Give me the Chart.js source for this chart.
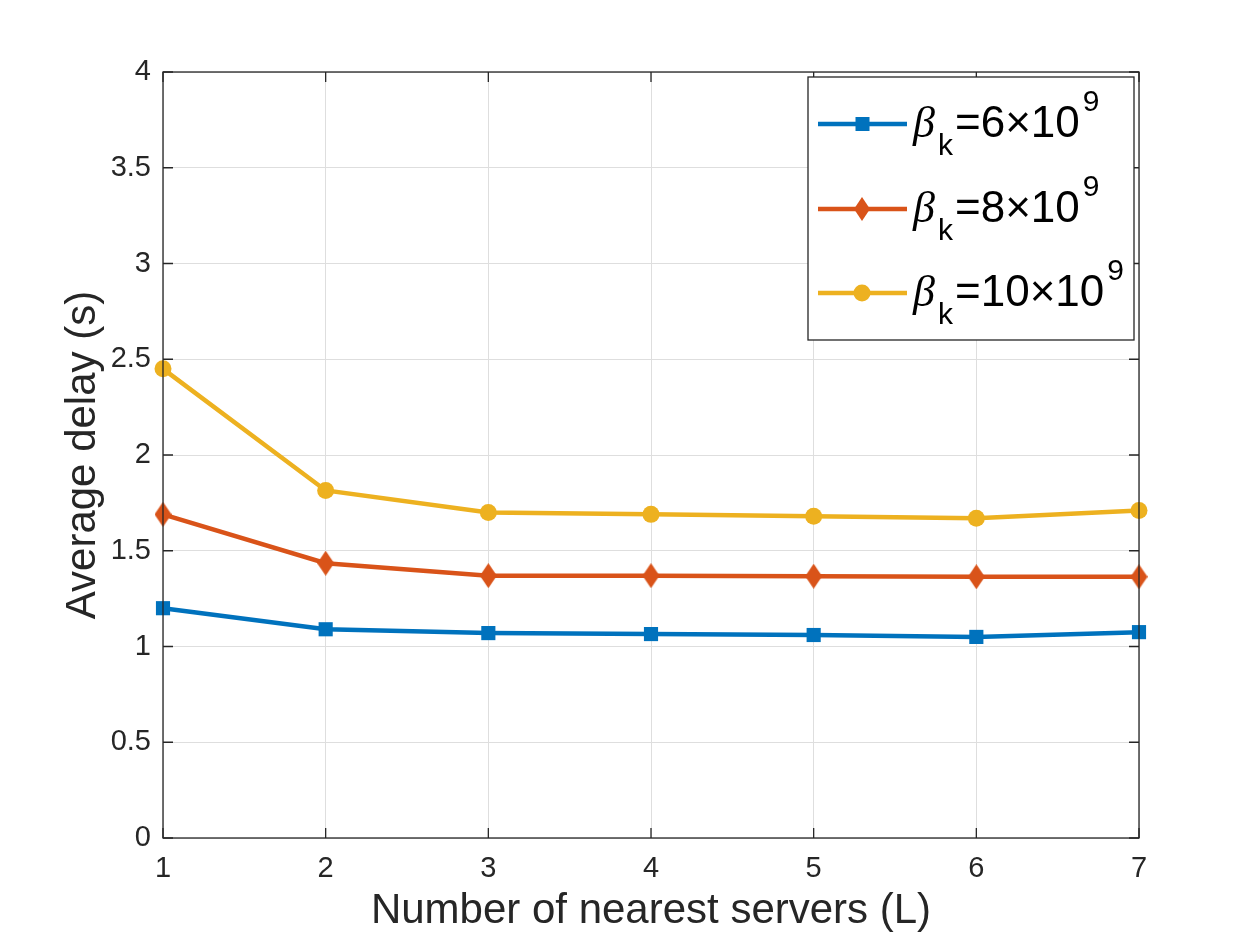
<!DOCTYPE html>
<html>
<head>
<meta charset="utf-8">
<script src="https://cdn.jsdelivr.net/npm/chart.js@4"></script>
<style>
  html, body { margin: 0; padding: 0; background: #fff; }
  #wrap { width: 1260px; height: 945px; }
</style>
</head>
<body>
<div id="wrap"><canvas id="chart" width="1260" height="945"></canvas></div>
<script>
const servers = [1, 2, 3, 4, 5, 6, 7];
const delay6 = [1.20, 1.09, 1.07, 1.065, 1.06, 1.05, 1.075];
const delay8 = [1.69, 1.435, 1.37, 1.37, 1.367, 1.364, 1.364];
const delay10 = [2.45, 1.815, 1.70, 1.69, 1.68, 1.67, 1.71];
const yTicks = [0, 0.5, 1, 1.5, 2, 2.5, 3, 3.5, 4];
const legendLabels = [
  { main: '=6\u00d710', sup: '9' },
  { main: '=8\u00d710', sup: '9' },
  { main: '=10\u00d710', sup: '9' }
];

const BLUE = '#0072BD';
const RED = '#D95319';
const YELLOW = '#EDB120';
const AXIS = '#262626';

// MATLAB's diamond is taller than wide
function diamond(w, h, color) {
  const c = document.createElement('canvas');
  c.width = w; c.height = h;
  const g = c.getContext('2d');
  g.fillStyle = color;
  g.beginPath();
  g.moveTo(w / 2, 0);
  g.lineTo(w, h / 2);
  g.lineTo(w / 2, h);
  g.lineTo(0, h / 2);
  g.closePath();
  g.fill();
  return c;
}

const toPoints = (ys) => servers.map((x, i) => ({ x: x, y: ys[i] }));

const boxPlugin = {
  id: 'matlabBox',
  afterDraw(chart) {
    const { ctx, chartArea: a, scales } = chart;
    ctx.save();
    ctx.strokeStyle = AXIS;
    ctx.lineWidth = 1.3;
    ctx.strokeRect(a.left, a.top, a.right - a.left, a.bottom - a.top);
    const len = 10;
    ctx.beginPath();
    servers.forEach((v) => {
      const px = scales.x.getPixelForValue(v);
      ctx.moveTo(px, a.bottom); ctx.lineTo(px, a.bottom - len);
      ctx.moveTo(px, a.top); ctx.lineTo(px, a.top + len);
    });
    yTicks.forEach((v) => {
      const py = scales.y.getPixelForValue(v);
      ctx.moveTo(a.left, py); ctx.lineTo(a.left + len, py);
      ctx.moveTo(a.right, py); ctx.lineTo(a.right - len, py);
    });
    ctx.stroke();

    // legend
    const lx = 808, ly = 77, lw = 326, lh = 263;
    ctx.fillStyle = '#fff';
    ctx.fillRect(lx, ly, lw, lh);
    ctx.strokeStyle = AXIS;
    ctx.lineWidth = 1.3;
    ctx.strokeRect(lx, ly, lw, lh);
    const rows = [124, 209, 293];
    const colors = [BLUE, RED, YELLOW];
    rows.forEach((y, i) => {
      ctx.strokeStyle = colors[i];
      ctx.lineWidth = 4.5;
      ctx.beginPath();
      ctx.moveTo(818, y); ctx.lineTo(907, y);
      ctx.stroke();
      ctx.fillStyle = colors[i];
      if (i === 0) {
        ctx.fillRect(855.5, y - 7, 14, 14);
      } else if (i === 1) {
        ctx.drawImage(diamond(16, 24, RED), 854, y - 12);
      } else {
        ctx.beginPath();
        ctx.arc(862, y, 8.5, 0, Math.PI * 2);
        ctx.fill();
      }
      const base = y + 13;
      ctx.fillStyle = '#000';
      ctx.textBaseline = 'alphabetic';
      ctx.textAlign = 'left';
      ctx.font = 'italic 44px "Liberation Serif"';
      ctx.fillText('\u03b2', 913, base);
      ctx.font = '30px "Liberation Sans"';
      ctx.fillText('k', 938, base + 18);
      ctx.font = '44px "Liberation Sans"';
      ctx.fillText(legendLabels[i].main, 955, base);
      const w = ctx.measureText(legendLabels[i].main).width;
      ctx.font = '30px "Liberation Sans"';
      ctx.fillText(legendLabels[i].sup, 955 + w + 3, base - 26);
    });
    ctx.restore();
  }
};

new Chart(document.getElementById('chart'), {
  type: 'line',
  data: {
    datasets: [
      {
        label: '6e9',
        data: toPoints(delay6),
        borderColor: BLUE,
        backgroundColor: BLUE,
        borderWidth: 4.5,
        pointStyle: 'rect',
        pointRadius: 10,
        pointBorderWidth: 0,
        clip: false
      },
      {
        label: '8e9',
        data: toPoints(delay8),
        borderColor: RED,
        backgroundColor: RED,
        borderWidth: 4.5,
        pointStyle: diamond(17, 25, RED),
        clip: false
      },
      {
        label: '10e9',
        data: toPoints(delay10),
        borderColor: YELLOW,
        backgroundColor: YELLOW,
        borderWidth: 4.5,
        pointStyle: 'circle',
        pointRadius: 8.5,
        pointBorderWidth: 0,
        clip: false
      }
    ]
  },
  options: {
    responsive: false,
    animation: false,
    devicePixelRatio: 1,
    layout: { padding: { top: 72, right: 121, left: 0, bottom: 0 } },
    plugins: {
      legend: { display: false },
      tooltip: { enabled: false }
    },
    scales: {
      x: {
        type: 'linear',
        min: 1,
        max: 7,
        afterFit: (s) => { s.height = 107; },
        afterBuildTicks: (s) => { s.ticks = servers.map((v) => ({ value: v })); },
        grid: { color: '#dedede', lineWidth: 1, drawTicks: false },
        border: { display: false },
        ticks: {
          color: AXIS,
          padding: 14,
          maxRotation: 0,
          font: { family: '"Liberation Sans"', size: 29 }
        },
        title: {
          display: true,
          text: 'Number of nearest servers (L)',
          color: AXIS,
          padding: { top: 0, bottom: 8 },
          font: { family: '"Liberation Sans"', size: 42 }
        }
      },
      y: {
        type: 'linear',
        min: 0,
        max: 4,
        afterFit: (s) => { s.width = 163; },
        afterBuildTicks: (s) => { s.ticks = yTicks.map((v) => ({ value: v })); },
        grid: { color: '#dedede', lineWidth: 1, drawTicks: false },
        border: { display: false },
        ticks: {
          color: AXIS,
          padding: 12,
          font: { family: '"Liberation Sans"', size: 29 },
          callback: (v) => String(v)
        },
        title: {
          display: true,
          text: 'Average delay (s)',
          color: AXIS,
          padding: { top: 58, bottom: 0 },
          font: { family: '"Liberation Sans"', size: 42 }
        }
      }
    }
  },
  plugins: [boxPlugin]
});
</script>
</body>
</html>
